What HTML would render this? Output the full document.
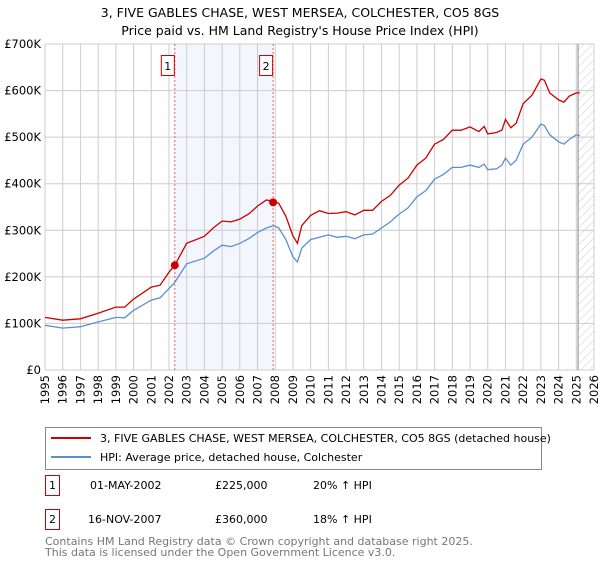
<!DOCTYPE html>
<html><head><meta charset="utf-8"><style>
body{margin:0;background:#fff;font-family:"DejaVu Sans","Liberation Sans",sans-serif;}
svg text{font-family:"DejaVu Sans","Liberation Sans",sans-serif;}
</style></head><body>
<svg id="c" width="600" height="560" xmlns="http://www.w3.org/2000/svg">
<defs><pattern id="hatch" width="6" height="6" patternUnits="userSpaceOnUse" patternTransform="rotate(45)"><line x1="0" y1="0" x2="0" y2="6" stroke="#ccc" stroke-width="1"/></pattern></defs>
<text x="300" y="17" text-anchor="middle" font-size="12.5" fill="#000">3, FIVE GABLES CHASE, WEST MERSEA, COLCHESTER, CO5 8GS</text>
<text x="300" y="35" text-anchor="middle" font-size="12.5" fill="#000">Price paid vs. HM Land Registry's House Price Index (HPI)</text>
<g id="plot"></g>
<g>
<rect x="45.5" y="427.5" width="496" height="42" fill="#fff" stroke="#888"/>
<line x1="51" y1="438" x2="91" y2="438" stroke="#cc0000" stroke-width="2"/>
<text x="100" y="442" font-size="11">3, FIVE GABLES CHASE, WEST MERSEA, COLCHESTER, CO5 8GS (detached house)</text>
<line x1="51" y1="457" x2="91" y2="457" stroke="#5b8fd0" stroke-width="2"/>
<text x="100" y="461" font-size="11">HPI: Average price, detached house, Colchester</text>
</g>
<g font-size="11">
<rect x="45.5" y="475.5" width="14" height="20" fill="#fff" stroke="#cc0000"/>
<text x="52.5" y="489" text-anchor="middle">1</text>
<text x="90" y="489">01-MAY-2002</text><text x="215" y="489">£225,000</text><text x="313" y="489">20% ↑ HPI</text>
<rect x="45.5" y="509.5" width="14" height="20" fill="#fff" stroke="#cc0000"/>
<text x="52.5" y="523" text-anchor="middle">2</text>
<text x="88" y="523">16-NOV-2007</text><text x="215" y="523">£360,000</text><text x="313" y="523">18% ↑ HPI</text>
</g>
<text x="45" y="545" font-size="11" fill="#777">Contains HM Land Registry data © Crown copyright and database right 2025.</text>
<text x="45" y="556" font-size="11" fill="#777">This data is licensed under the Open Government Licence v3.0.</text>
</svg>
<script>
const hpiYears=[1995,1996,1997,1998,1999,1999.5,2000,2001,2001.5,2002,2002.33,2003,2004,2004.5,2005,2005.5,2006,2006.5,2007,2007.5,2007.9,2008.2,2008.6,2009,2009.25,2009.5,2010,2010.5,2011,2011.5,2012,2012.5,2013,2013.5,2014,2014.5,2015,2015.5,2016,2016.5,2017,2017.5,2018,2018.5,2019,2019.5,2019.8,2020,2020.5,2020.8,2021,2021.3,2021.6,2022,2022.5,2023,2023.2,2023.5,2024,2024.3,2024.6,2025,2025.2];
const hpiValues=[96,90,93,103,113,112,128,150,155,175,188,228,240,255,268,265,272,282,295,305,310,305,280,243,232,262,280,285,290,285,287,282,290,292,305,318,335,348,372,385,410,420,435,435,440,435,442,430,432,440,455,440,450,485,500,528,525,505,490,485,495,505,503];
const priceValues=[113,107,110,122,135,135,152,178,182,210,225,272,287,305,320,318,324,335,352,365,362,358,330,288,272,310,332,342,336,337,340,333,343,343,362,375,397,412,440,455,485,495,515,515,522,512,523,507,510,515,538,520,530,572,590,625,622,595,580,575,588,595,595];
const saleDates=[2002.33,2007.88];
const salePrices=[225,360];
const saleLabels=["1","2"];
const yTicks=[0,100,200,300,400,500,600,700];
const yTickLabels=["£0","£100K","£200K","£300K","£400K","£500K","£600K","£700K"];
const xTicks=[1995,1996,1997,1998,1999,2000,2001,2002,2003,2004,2005,2006,2007,2008,2009,2010,2011,2012,2013,2014,2015,2016,2017,2018,2019,2020,2021,2022,2023,2024,2025,2026];
const L=45,R=594,T=44,B=370;
const xs=y=>L+(y-1995)*(R-L)/31;
const ys=v=>B-v*(B-T)/700;
const NS="http://www.w3.org/2000/svg";
const g=document.getElementById('plot');
function mk(tag,attrs,parent){const e=document.createElementNS(NS,tag);for(const k in attrs)e.setAttribute(k,attrs[k]);(parent||g).appendChild(e);return e;}
let sh=mk('rect',{x:xs(saleDates[0]),y:T,width:xs(saleDates[1])-xs(saleDates[0]),height:B-T,fill:'#f3f7fd'});


let hz=mk('rect',{x:xs(2025.1),y:T,width:R-xs(2025.1),height:B-T,fill:'url(#hatch)'});


xTicks.forEach(t=>{
 let l=mk('line',{x1:xs(t),x2:xs(t),y1:T,y2:B,stroke:'#ccc','stroke-width':1});
 
 
 let tx=mk('text',{x:0,y:0,'font-size':11.5,'text-anchor':'end',transform:`translate(${xs(t)+4},${B+5}) rotate(-90)`});
 tx.textContent=t;
 
 
});
yTicks.forEach((t,i)=>{
 let l=mk('line',{x1:L,x2:R,y1:ys(t),y2:ys(t),stroke:'#ccc','stroke-width':1});
 
 
 let tx=mk('text',{x:L-4,y:ys(t)+4,'font-size':11.5,'text-anchor':'end'});
 tx.textContent=yTickLabels[i];
 
 
});
let ax=mk('line',{x1:L,x2:L,y1:T,y2:B,stroke:'#ccc'});


let nl=mk('line',{x1:xs(2025.1),x2:xs(2025.1),y1:T,y2:B,stroke:'#888'});


saleDates.forEach((d,i)=>{
 let l=mk('line',{x1:xs(d),x2:xs(d),y1:T,y2:B,stroke:'#e06060','stroke-dasharray':'2,2'});
 
 
 let r=mk('rect',{x:xs(d)-13.5,y:55.5,width:13,height:20,fill:'#fff',stroke:'#cc0000'});
 
 
 let t=mk('text',{x:xs(d)-7,y:70,'font-size':11,'text-anchor':'middle'});
 t.textContent=saleLabels[i];
 
 
});
const pts=(vals)=>hpiYears.map((y,i)=>xs(y).toFixed(1)+','+ys(vals[i]).toFixed(1)).join(' ');
let hp=mk('polyline',{points:pts(hpiValues),fill:'none',stroke:'#5b8fd0','stroke-width':1.3});


let pp=mk('polyline',{points:pts(priceValues),fill:'none',stroke:'#cc0000','stroke-width':1.3});


saleDates.forEach((d,i)=>{
 let c=mk('circle',{cx:xs(d),cy:ys(salePrices[i]),r:4,fill:'#cc0000'});
 
 
});
</script>
</body></html>
